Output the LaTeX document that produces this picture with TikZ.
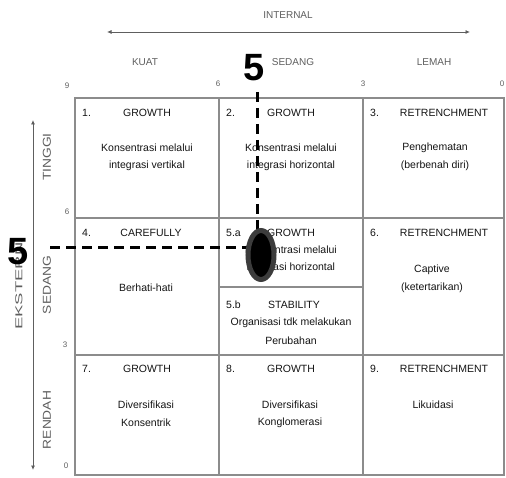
\documentclass[tikz,border=0pt]{standalone}
\usepackage{fontspec}
\setmainfont{Liberation Sans}
\usetikzlibrary{arrows.meta,shapes.geometric}
\definecolor{gridgray}{HTML}{8C8C8C}
\definecolor{inkdark}{HTML}{141414}
\definecolor{axisgray}{HTML}{5E5E5E}
\definecolor{ringgray}{HTML}{3C3C3C}
\begin{document}
\begin{tikzpicture}[x=1pt,y=-1pt,
  celltext/.style={font=\fontsize{10.5}{12}\selectfont, text=inkdark, inner sep=0pt},
  cellnum/.style={celltext, anchor=west},
  axislabel/.style={font=\fontsize{10}{12}\selectfont, text=axisgray, inner sep=0pt},
  sidelabel/.style={font=\fontsize{11.5}{14}\selectfont, text=axisgray, inner sep=0pt, rotate=90},
  ticklabel/.style={font=\fontsize{8}{10}\selectfont, text=axisgray, inner sep=0pt},
  bigfive/.style={font=\fontsize{38}{40}\selectfont\bfseries, text=black, inner sep=0pt},
  gridline/.style={draw=gridgray, line width=1.2pt},
  guide/.style={draw=black, line width=3pt, dash pattern=on 10pt off 6pt},
  axisarrow/.style={draw=axisgray, line width=0.8pt,
    {Latex[length=4.5pt,width=4pt]}-{Latex[length=4.5pt,width=4pt]}}
]
\useasboundingbox (0,0) rectangle (506,478);

% ---- matrix grid ----
\draw[gridline] (75,98) rectangle (504,475);
\draw[gridline] (219,98) -- (219,475);
\draw[gridline] (363,98) -- (363,475);
\draw[gridline] (75,218) -- (504,218);
\draw[gridline] (75,355) -- (504,355);
\draw[gridline] (219,287) -- (363,287);

% ---- internal axis (top) ----
\node[axislabel] (internal) at (288,15) {INTERNAL};
\coordinate (intL) at (107,32);
\coordinate (intR) at (470,32);
\draw[axisarrow] (intL) -- (intR);
\node[axislabel] (kuat) at (145,62) {KUAT};
\node[axislabel] (sedangT) at (293,62) {SEDANG};
\node[axislabel] (lemah) at (434,62) {LEMAH};
\node[ticklabel] (t9) at (67,86) {9};
\node[ticklabel] (t6) at (218,84) {6};
\node[ticklabel] (t3) at (363,84) {3};
\node[ticklabel] (t0) at (502,84) {0};

% ---- external axis (left) ----
\coordinate (extT) at (33,120);
\coordinate (extB) at (33,470);
\draw[axisarrow] (extT) -- (extB);
\begin{scope}
  \clip (0,240) rectangle (30,478);
  \node[sidelabel, anchor=west, font=\fontsize{10}{12}\selectfont] (eksternal) at (19,330) {\scalebox{1.85}[1]{EKSTERNAL}};
\end{scope}
\node[sidelabel] (tinggi) at (47,157) {\scalebox{1.2}[1]{TINGGI}};
\node[sidelabel] (sedangL) at (47,285) {\scalebox{1.2}[1]{SEDANG}};
\node[sidelabel] (rendah) at (47,420) {\scalebox{1.2}[1]{RENDAH}};
\node[ticklabel] (l6) at (67,212) {6};
\node[ticklabel] (l3) at (65,345) {3};
\node[ticklabel] (l0) at (66,466) {0};

% ---- cell 1 ----
\node[cellnum] (n1) at (82,113) {1.};
\node[celltext] (h1) at (147,113) {GROWTH};
\node[celltext] (b1a) at (147,148) {Konsentrasi melalui};
\node[celltext] (b1b) at (147,166) {integrasi vertikal};
% ---- cell 2 ----
\node[cellnum] (n2) at (226,113) {2.};
\node[celltext] (h2) at (291,113) {GROWTH};
\node[celltext] (b2a) at (291,148) {Konsentrasi melalui};
\node[celltext] (b2b) at (291,166) {integrasi horizontal};
% ---- cell 3 ----
\node[cellnum] (n3) at (370,113) {3.};
\node[celltext] (h3) at (444,113) {RETRENCHMENT};
\node[celltext] (b3a) at (435,148) {Penghematan};
\node[celltext] (b3b) at (435,166) {(berbenah diri)};
% ---- cell 4 ----
\node[cellnum] (n4) at (82,233) {4.};
\node[celltext] (h4) at (151,233) {CAREFULLY};
\node[celltext] (b4) at (146,288) {Berhati-hati};
% ---- cell 5.a ----
\node[cellnum] (n5a) at (226,233) {5.a};
\node[celltext] (h5a) at (291,233) {GROWTH};
\node[celltext] (b5a1) at (291,250) {Konsentrasi melalui};
\node[celltext] (b5a2) at (291,268) {integrasi horizontal};
% ---- cell 5.b ----
\node[cellnum] (n5b) at (226,305) {5.b};
\node[celltext] (h5b) at (294,305) {STABILITY};
\node[celltext] (b5b1) at (291,323) {Organisasi tdk melakukan};
\node[celltext] (b5b2) at (291,341) {Perubahan};
% ---- cell 6 ----
\node[cellnum] (n6) at (370,233) {6.};
\node[celltext] (h6) at (444,233) {RETRENCHMENT};
\node[celltext] (b6a) at (432,270) {Captive};
\node[celltext] (b6b) at (432,288) {(ketertarikan)};
% ---- cell 7 ----
\node[cellnum] (n7) at (82,369) {7.};
\node[celltext] (h7) at (147,369) {GROWTH};
\node[celltext] (b7a) at (146,405) {Diversifikasi};
\node[celltext] (b7b) at (146,423) {Konsentrik};
% ---- cell 8 ----
\node[cellnum] (n8) at (226,369) {8.};
\node[celltext] (h8) at (291,369) {GROWTH};
\node[celltext] (b8a) at (290,405) {Diversifikasi};
\node[celltext] (b8b) at (290,423) {Konglomerasi};
% ---- cell 9 ----
\node[cellnum] (n9) at (370,369) {9.};
\node[celltext] (h9) at (444,369) {RETRENCHMENT};
\node[celltext] (b9) at (433,405) {Likuidasi};

% ---- position marker (5,5) ----
\node[bigfive] (fiveTop) at (254,68) {5};
\node[bigfive] (fiveLeft) at (18,252) {5};
\coordinate (pos) at (261,255);
\coordinate (vStart) at (257,92);
\coordinate (hStart) at (50,248);
\draw[guide] (vStart) -- (vStart |- pos);
\draw[guide] (hStart) -- (hStart -| pos);
\node[ellipse, fill=black, draw=ringgray, line width=5pt,
      minimum width=26pt, minimum height=49pt, inner sep=0pt] (marker) at (pos) {};
\end{tikzpicture}
\end{document}
